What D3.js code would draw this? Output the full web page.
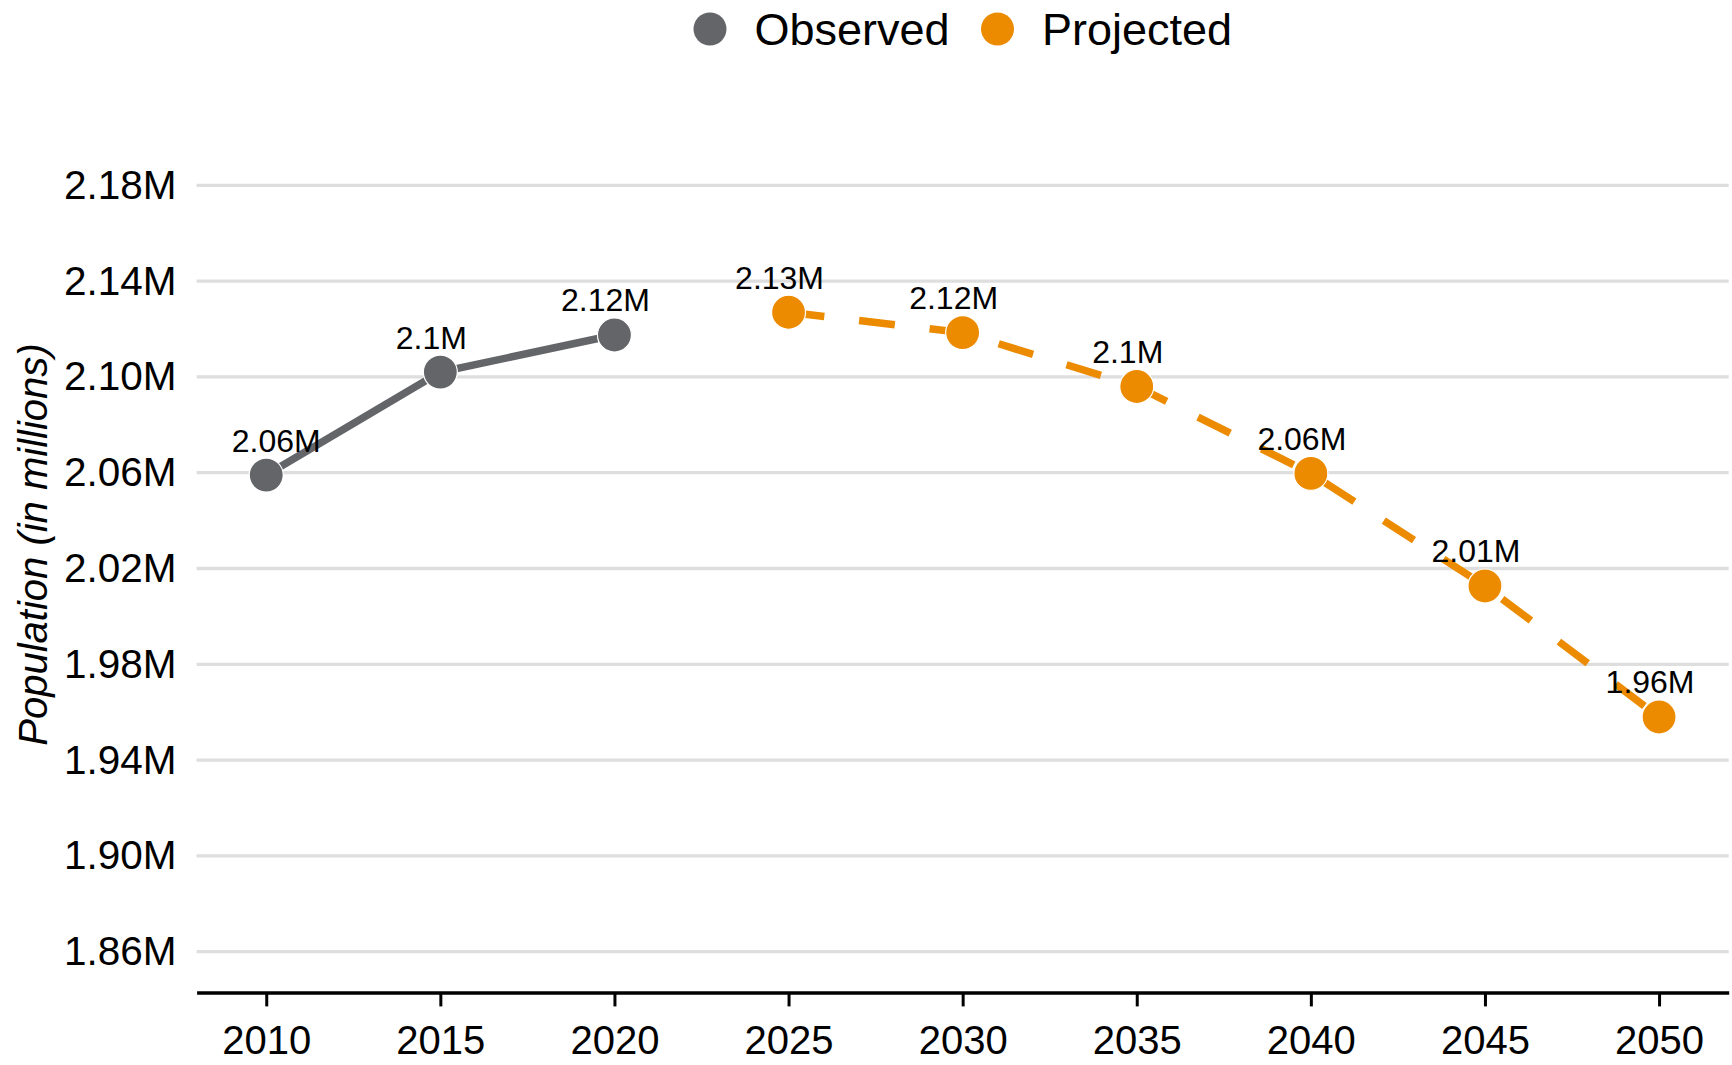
<!DOCTYPE html>
<html>
<head>
<meta charset="utf-8">
<script src="https://cdn.jsdelivr.net/npm/d3@7"></script>
<style>
  body { margin: 0; background: #fff; }
  text { font-family: "Liberation Sans", Arial, Helvetica, sans-serif; }
</style>
</head>
<body>
<div id="chart"></div>
<script>
// data (millions)
var observedYears  = [2010, 2015, 2020];
var observedValues = [2.059, 2.102, 2.1175];
var projectedYears  = [2025, 2030, 2035, 2040, 2045, 2050];
var projectedValues = [2.127, 2.1185, 2.096, 2.0597, 2.0127, 1.958];
var xTicks = [2010, 2015, 2020, 2025, 2030, 2035, 2040, 2045, 2050];
var yTicks = [1.86, 1.90, 1.94, 1.98, 2.02, 2.06, 2.10, 2.14, 2.18];
var seriesNames = ["Observed", "Projected"];

var grey = "#636569", orange = "#EC8B00";

var W = 1732, H = 1065;
var margin = { top: 96.7, right: 3.3, bottom: 72.6, left: 196.6 };

var svg = d3.select("#chart").append("svg")
  .attr("width", W).attr("height", H);

var x = d3.scaleLinear().domain([2008, 2052]).range([margin.left, W - margin.right]);
var y = d3.scaleLinear().domain([1.843, 2.217]).range([H - margin.bottom, margin.top]);

// gridlines
svg.append("g").selectAll("line")
  .data(yTicks).enter().append("line")
  .attr("x1", margin.left).attr("x2", W - margin.right)
  .attr("y1", d => y(d)).attr("y2", d => y(d))
  .attr("stroke", "#dedede").attr("stroke-width", 3.3);

// y axis (labels only)
var yAxis = svg.append("g")
  .attr("transform", `translate(${margin.left},0)`)
  .call(d3.axisLeft(y).tickValues(yTicks).tickSize(0).tickPadding(20)
    .tickFormat(d => d3.format(".2f")(d) + "M"));
yAxis.select(".domain").remove();
yAxis.selectAll("text").attr("font-size", 40.5).attr("fill", "#000")
  .style("font-family", '"Liberation Sans", Arial, sans-serif');

// x axis
var xAxis = svg.append("g")
  .attr("transform", `translate(0,${H - margin.bottom})`)
  .call(d3.axisBottom(x).tickValues(xTicks).tickSize(14).tickSizeOuter(0).tickPadding(19)
    .tickFormat(d3.format("d")));
xAxis.select(".domain").attr("stroke", "#000").attr("stroke-width", 3.5);
xAxis.selectAll(".tick line").attr("stroke", "#000").attr("stroke-width", 3);
xAxis.selectAll("text").attr("font-size", 40).attr("fill", "#000")
  .style("font-family", '"Liberation Sans", Arial, sans-serif');

// y title
svg.append("text")
  .attr("transform", `translate(33,${(margin.top + H - margin.bottom) / 2}) rotate(-90)`)
  .attr("text-anchor", "middle")
  .attr("dy", "0.35em")
  .attr("font-size", 40)
  .attr("font-style", "italic")
  .text("Population (in millions)");

var observed = observedYears.map((d, i) => ({ year: d, value: observedValues[i] }));
var projected = projectedYears.map((d, i) => ({ year: d, value: projectedValues[i] }));

var line = d3.line().x(d => x(d.year)).y(d => y(d.value));

svg.append("path").datum(observed)
  .attr("d", line).attr("fill", "none")
  .attr("stroke", grey).attr("stroke-width", 7.5);

svg.append("path").datum(projected)
  .attr("d", line).attr("fill", "none")
  .attr("stroke", orange).attr("stroke-width", 7.5)
  .attr("stroke-dasharray", "36,35");

// points
function drawPoints(data, color) {
  svg.append("g").selectAll("circle")
    .data(data).enter().append("circle")
    .attr("cx", d => x(d.year)).attr("cy", d => y(d.value))
    .attr("r", 17)
    .attr("fill", color)
    .attr("stroke", "#fff").attr("stroke-width", 1.2);
}
drawPoints(observed, grey);
drawPoints(projected, orange);

// value labels
var fmt = d3.format(".3~r");
var all = observed.concat(projected);
svg.append("g").selectAll("text")
  .data(all).enter().append("text")
  .attr("x", (d, i) => x(d.year) + (i === 0 ? 10 : -9))
  .attr("y", d => y(d.value) - 23.5)
  .attr("text-anchor", "middle")
  .attr("font-size", 32)
  .attr("fill", "#000")
  .text(d => fmt(d.value) + "M");

// legend
var legend = svg.append("g");
var legendX = [710, 997.5];
seriesNames.forEach(function(name, i) {
  legend.append("circle")
    .attr("cx", legendX[i]).attr("cy", 29)
    .attr("r", 16.5)
    .attr("fill", i === 0 ? grey : orange);
  legend.append("text")
    .attr("x", legendX[i] + 44.5).attr("y", 29)
    .attr("dy", "0.35em")
    .attr("font-size", 45)
    .attr("fill", "#000")
    .text(name);
});
</script>
</body>
</html>
